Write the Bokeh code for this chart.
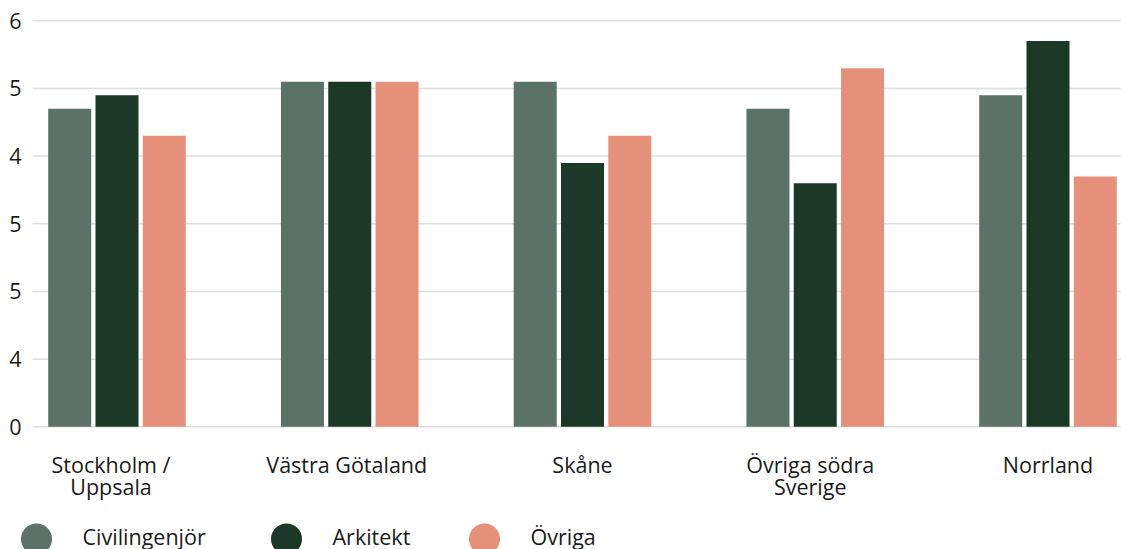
from bokeh.plotting import figure
from bokeh.models import Range1d
from bokeh.core.properties import value
from bokeh.embed import file_html
from bokeh.resources import INLINE

# Regions and average values per occupation group
regions = ["Stockholm /\nUppsala", "Västra Götaland", "Skåne", "Övriga södra\nSverige", "Norrland"]
civilingenjor = [4.7, 5.1, 5.1, 4.7, 4.9]
arkitekt = [4.9, 5.1, 3.9, 3.6, 5.7]
ovriga = [4.3, 5.1, 4.3, 5.3, 3.7]

series_names = ["Civilingenjör", "Arkitekt", "Övriga"]
series_values = [civilingenjor, arkitekt, ovriga]
series_colors = ["#5a7267", "#1c3827", "#e4907a"]

tick_values = [0, 1, 2, 3, 4, 5, 6]
tick_labels = ["0", "4", "5", "5", "4", "5", "6"]

W, H = 1121, 549
FONT = "Open Sans"
FONT_SIZE = "21.5px"
TEXT_COLOR = "#1a1a1a"

# pixel geometry of the drawing area
X_PX_PER_UNIT = 232.75
X0_PX = 116.5          # centre of the first region
Y_PX_PER_UNIT = 67.67
Y0_PX = 426.3          # baseline (value 0)

x_start = (0 - X0_PX) / X_PX_PER_UNIT
x_end = x_start + W / X_PX_PER_UNIT
y_end = Y0_PX / Y_PX_PER_UNIT
y_start = y_end - H / Y_PX_PER_UNIT


def px_x(px):
    return x_start + px / X_PX_PER_UNIT


def px_y(py):
    return y_end - py / Y_PX_PER_UNIT


p = figure(width=W, height=H, output_backend="svg", toolbar_location=None,
           x_range=Range1d(x_start, x_end), y_range=Range1d(y_start, y_end),
           min_border=0)
p.axis.visible = False
p.grid.visible = False
p.outline_line_color = None
p.background_fill_color = "white"
p.border_fill_color = "white"

# horizontal grid lines
grid_left = px_x(32)
p.segment(x0=[grid_left] * len(tick_values), x1=[x_end] * len(tick_values),
          y0=tick_values, y1=tick_values, line_color="#dedede", line_width=1.5)

# y tick labels
p.text(x=[px_x(21)] * len(tick_values), y=tick_values, text=tick_labels,
       text_align="right", text_baseline="middle", text_font=value(FONT),
       text_font_size=FONT_SIZE, text_color=TEXT_COLOR)

# grouped bars
bar_w = 43 / X_PX_PER_UNIT
step = 47.3 / X_PX_PER_UNIT
xs = list(range(len(regions)))
for i, (vals, color) in enumerate(zip(series_values, series_colors)):
    offset = (i - 1) * step
    p.vbar(x=[x + offset for x in xs], top=vals, bottom=0, width=bar_w,
           fill_color=color, line_color=None)

# region labels under the bars (wrapped labels sit slightly left of centre)
label_shift_px = [-6, -3, 0, -5, 0]
label_x = [x + d / X_PX_PER_UNIT for x, d in zip(xs, label_shift_px)]
p.text(x=label_x, y=[px_y(449)] * len(xs), text=regions, text_align="center",
       text_baseline="top", text_font=value(FONT), text_font_size=FONT_SIZE,
       text_color=TEXT_COLOR, text_line_height=0.78)

# legend
legend_dot_px = [36, 286, 484]
legend_text_px = [82, 332, 530]
p.scatter(x=[px_x(v) for v in legend_dot_px], y=[px_y(538.5)] * 3, size=31,
          marker="circle", fill_color=series_colors, line_color=None)
p.text(x=[px_x(v) for v in legend_text_px], y=[px_y(535.5)] * 3, text=series_names,
       text_align="left", text_baseline="middle", text_font=value(FONT),
       text_font_size=FONT_SIZE, text_color=TEXT_COLOR)

open("out.html", "w").write(file_html(p, INLINE))
